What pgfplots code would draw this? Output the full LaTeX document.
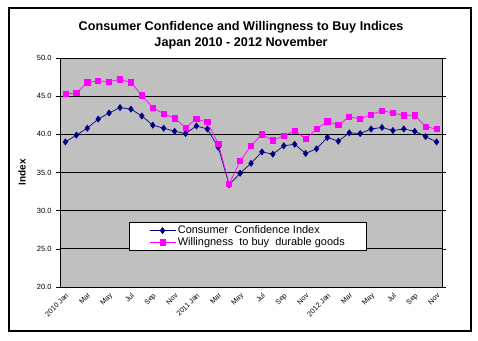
\documentclass[border=0pt]{standalone}
\usepackage{fontspec}
\setmainfont{Liberation Sans}
\usepackage{pgfplots}
\pgfplotsset{compat=1.18}
\definecolor{navyc}{HTML}{000080}
\definecolor{magc}{HTML}{FF00FF}
\definecolor{plotbg}{HTML}{C0C0C0}
\begin{document}
\begin{tikzpicture}[x=1bp,y=1bp]
\useasboundingbox (0,0) rectangle (478,340);
\draw[line width=1.2bp, fill=white] (9,9) rectangle (471,332);
\node[font=\bfseries\fontsize{12.7}{14}\selectfont] at (241,313) {Consumer Confidence and Willingness to Buy Indices};
\node[font=\bfseries\fontsize{12.7}{14}\selectfont] at (241,297) {Japan 2010 - 2012 November};
\node[rotate=90, font=\bfseries\fontsize{10}{11}\selectfont] at (22,168) {Index};
\begin{axis}[
  at={(60bp,53bp)}, anchor=south west,
  scale only axis, width=382bp, height=229bp,
  xmin=-0.5, xmax=34.5, ymin=20, ymax=50,
  ytick={20,25,...,50},
  /pgf/number format/fixed, /pgf/number format/fixed zerofill, /pgf/number format/precision=1,
  /pgf/number format/assume math mode=true,
  yticklabel style={font=\fontsize{7.5}{8}\selectfont, xshift=-1bp},
  ymajorgrids, grid style={black, line width=0.8bp},
  axis background/.style={fill=plotbg},
  axis line style={draw=gray, line width=0.8bp},
  y axis line style={draw=black},
  ytick style={black, line width=0.6bp},
  tick align=outside, major tick length=4bp,
  xtick={0,2,...,34},
  xticklabels={2010 Jan,Mar,May,Jul,Sep,Nov,2011 Jan,Mar,May,Jul,Sep,Nov,2012 Jan,Mar,May,Jul,Sep,Nov},
  xticklabel style={rotate=45, anchor=north east, font=\fontsize{7.2}{8}\selectfont, inner sep=1bp},
  x tick style={draw=none},
  minor xtick={-0.5,0.5,...,34.5},
  minor tick length=3bp,
  minor x tick style={black, line width=0.5bp},
  legend style={at={(0.180,0.157)}, anchor=south west, draw=black, fill=white, line width=0.8bp,
    font=\fontsize{11}{12}\selectfont, inner xsep=20bp, inner ysep=1.5bp, row sep=-1.5bp,
    /tikz/every odd column/.append style={column sep=0bp}},
  legend cell align=left,
  legend image code/.code={\draw[mark repeat=2, mark phase=2, #1] plot coordinates {(0bp,0bp) (13bp,0bp) (26bp,0bp)};},
]
\addplot[navyc, line width=0.7bp, mark=diamond*, mark size=3bp, mark options={fill=navyc, draw=navyc}] coordinates {
(0,39.0) (1,39.9) (2,40.8) (3,42.0) (4,42.8) (5,43.5) (6,43.3) (7,42.4) (8,41.2) (9,40.8)
(10,40.4) (11,40.1) (12,41.1) (13,40.7) (14,38.3) (15,33.4) (16,34.9) (17,36.2) (18,37.7) (19,37.4)
(20,38.5) (21,38.7) (22,37.5) (23,38.1) (24,39.6) (25,39.1) (26,40.2) (27,40.1) (28,40.7) (29,40.9)
(30,40.5) (31,40.7) (32,40.4) (33,39.7) (34,39.0)};
\addlegendentry{Consumer\ \ Confidence Index}
\addplot[magc, line width=0.7bp, mark=square*, mark size=2.6bp, mark options={fill=magc, draw=magc}] coordinates {
(0,45.3) (1,45.4) (2,46.8) (3,47.0) (4,46.9) (5,47.2) (6,46.8) (7,45.1) (8,43.5) (9,42.7)
(10,42.1) (11,40.9) (12,42.0) (13,41.6) (14,38.8) (15,33.5) (16,36.5) (17,38.5) (18,40.0) (19,39.2)
(20,39.8) (21,40.5) (22,39.4) (23,40.7) (24,41.7) (25,41.2) (26,42.3) (27,42.0) (28,42.6) (29,43.1)
(30,42.8) (31,42.5) (32,42.5) (33,41.0) (34,40.7)};
\addlegendentry{Willingness\ \ to buy\ \ durable goods}
\end{axis}
\end{tikzpicture}
\end{document}
